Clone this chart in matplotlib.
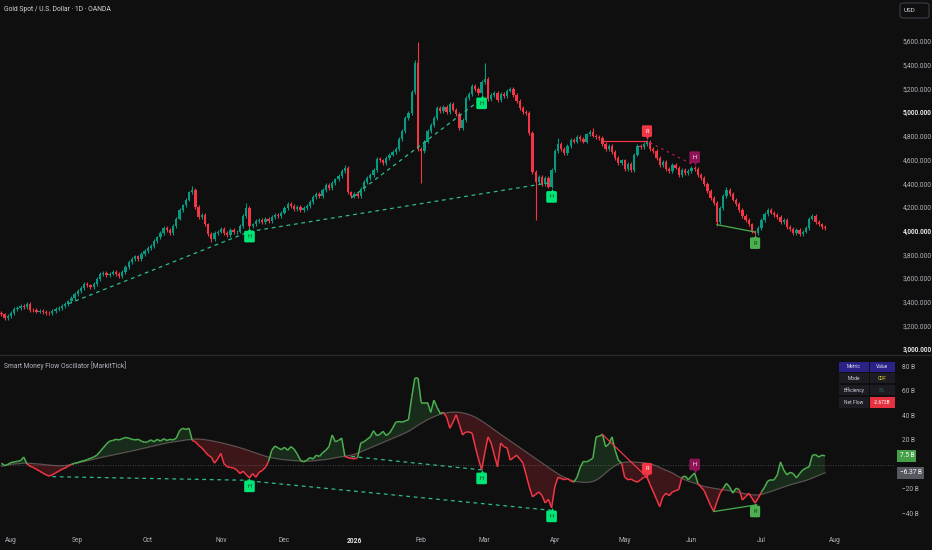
import numpy as np
import matplotlib
matplotlib.use("Agg")
import matplotlib.pyplot as plt
from matplotlib.collections import LineCollection
from matplotlib.transforms import offset_copy, blended_transform_factory
from matplotlib.patches import Rectangle, FancyBboxPatch

plt.rcParams['font.family'] = ['Roboto', 'DejaVu Sans']

# ---------------- data ----------------
TITLE = "Gold Spot / U.S. Dollar · 1D · OANDA"
OSC_TITLE = "Smart Money Flow Oscillator [MarkitTick]"
FIRST_BAR = -3
FIRST_OPEN = 3310

CLOSE = [
    3300, 3270, 3290,
    # Aug
    3310, 3345, 3355, 3370, 3365, 3385, 3340, 3335, 3325, 3330, 3320, 3315, 3310, 3330, 3345, 3355, 3370, 3390, 3410, 3440, 3470,
    # Sep
    3500, 3525, 3555, 3545, 3535, 3555, 3600, 3640, 3650, 3630, 3645, 3660, 3640, 3625, 3660, 3700, 3740, 3765, 3790, 3770, 3810, 3835,
    # Oct
    3860, 3880, 3920, 3950, 3990, 4030, 4010, 3990, 4050, 4110, 4180, 4220, 4270, 4330, 4350, 4210, 4120, 4140, 4060, 3980, 3940, 3990, 4000,
    # Nov
    4020, 3990, 3970, 4010, 3995, 4000, 4050, 4130, 4200, 4045, 4060, 4090, 4100, 4080, 4110, 4090, 4120, 4140, 4130, 4160,
    # Dec
    4200, 4230, 4215, 4190, 4205, 4185, 4200, 4215, 4250, 4290, 4320, 4300, 4350, 4390, 4370, 4410, 4440, 4470, 4510, 4535, 4330, 4300,
    # Jan
    4320, 4300, 4360, 4420, 4450, 4480, 4520, 4610, 4600, 4580, 4620, 4650, 4670, 4700, 4780, 4850, 4960, 5000, 5180, 5420, 4700,
    # Feb
    4680, 4760, 4850, 4900, 4960, 5040, 5020, 5050, 5010, 5080, 5030, 4990, 4870, 4940, 5130, 5160, 5230, 5200, 5170, 5260,
    # Mar
    5290, 5120, 5150, 5170, 5110, 5160, 5140, 5190, 5200, 5150, 5100, 5040, 5010, 5000, 4830, 4500, 4420, 4460, 4400, 4450, 4380, 4520,
    # Apr
    4680, 4740, 4700, 4660, 4720, 4770, 4760, 4800, 4780, 4760, 4820, 4840, 4810, 4800, 4790, 4740, 4700, 4720, 4670, 4620, 4580, 4600,
    # May
    4530, 4570, 4520, 4650, 4720, 4710, 4740, 4760, 4700, 4680, 4620, 4560, 4590, 4530, 4510, 4560, 4540, 4480, 4520, 4490, 4510,
    # Jun
    4540, 4525, 4480, 4450, 4400, 4340, 4280, 4240, 4080, 4200, 4300, 4350, 4320, 4270, 4230, 4180, 4130, 4100, 4060, 4000, 3990, 4030,
    # Jul
    4100, 4150, 4180, 4160, 4140, 4120, 4080, 4100, 4040, 4020, 3990, 4010, 3980, 4000, 4030, 4110, 4130, 4080, 4060, 4040, 4030,
]
WICK = 16
HIGH_OVR = {57: 4385, 74: 4240, 105: 4560, 127: 5450, 128: 5600, 149: 5420, 183: 4870, 172: 4790, 225: 4380}
LOW_OVR = {129: 4410, 165: 4100, 63: 3910, 222: 4050}

OSC = [
    1.5, -0.5, 0.5,
    2, 2.5, 3, 3.5, 6.5, 1, -1, -2, -3.5, -5, -6.5, -8, -9, -8, -6.5, -5, -3.5, -2.5, -1, 0.5, 1.5,
    2, 3, 3.5, 4.5, 5.5, 6.5, 8, 11, 14, 17, 19.5, 20, 21, 20.5, 21.5, 22.5, 22, 21, 20.5, 21, 19.5, 18.5,
    19, 20.5, 19, 21, 19.5, 21.5, 20, 21, 20.5, 22, 28, 30, 29, 30, 20, 19, 16, 14, 11, 8, 6.5, 1.5, 5,
    9.5, 1, -1.5, -2, -2.5, -4, -7, -5, -8, -10.5, -7, -10, -6, -4.5, -2, 3, 12, 15.5, 14, 12.5,
    14.5, 12, 15, 13, 9, 4, 2.5, 4, 6, 5, 8, 7, 10, 12, 15, 24.5, 19, 20, 22, 7, 6, 5.5,
    5, 6, 18, 19, 21, 23, 28, 24, 25, 27.5, 24, 26, 30, 35, 35.5, 35, 36, 37, 55, 71, 71,
    51, 51, 51, 43, 53, 47, 42, 43, 39, 30, 35, 41, 33, 24.5, 27, 27, 26, 15, 5, -4,
    10, 23, 18, 8, -1.5, 18, 15, 14, 4, 6, 8, 5, 1.5, -8, -18, -26, -24, -22, -25, -31, -28, -35,
    -18, -10, -11, -12, -11, -13, -14, -10, -2, 3, 2.5, 4, 5.5, 23, 23.5, 25, 15, 17, 23, 12, 4, 1.5,
    -10, -12, -11.5, -13, -14, -12, -10, -10, -16, -22, -28, -34, -26, -23, -25, -22, -21, -20, -10, -9, -12,
    -9, -6.5, -15, -18, -21, -27, -33, -38, -30, -23, -19, -15, -18, -23, -19, -20, -28.5, -26, -23, -27, -31, -27,
    -22, -18, -13, -12, -12, -8, 2.5, -4, -8, -6, -7, -10.5, -7, -4, -2.5, -1.5, 8, 8.5, 6.5, 8, 7.5,
]
SIGNAL = [
    -1, -0.5, 0, 0.5, 0.8, 1, 1.2, 1.5, 1.5, 1.4, 1.2, 1, 0.8, 0.5, 0.2, 0, -0.3, -0.5, -0.6, -0.6, -0.5,
    0, 0.5, 1.1, 1.7, 2.3, 2.9, 3.5, 4.1, 4.7, 5.3, 5.9, 6.5, 7, 7.6, 8.1, 8.7, 9.2, 9.8, 10.3, 10.9,
    11.4, 12, 12.6, 13.2, 13.8, 14.4, 15, 15.6, 16.2, 16.8, 17.4, 17.9, 18.4, 18.8, 19.2, 19.6, 20, 20.4, 20.7, 21,
    21.2, 21.2, 21, 20.7, 20.3, 19.8, 19.3, 18.8, 18.2, 17.6, 17, 16.3, 15.6, 14.9, 14.1, 13.3, 12.5, 11.6, 10.7, 9.8,
    8.9, 8, 7.2, 6.5, 5.9, 5.4, 5, 4.6, 4.3, 4, 3.8, 3.6, 3.4, 3.2, 3.1, 3.1, 3.2, 3.4, 3.6, 3.9,
    4.2, 4.5, 4.9, 5.4, 5.9, 6.4, 6.8, 7.2, 7.6, 8.1,
    8.8, 9.7, 10.7, 11.8, 12.9, 14, 15.1, 16.2, 17.3, 18.4, 19.5, 20.6, 21.7, 22.8, 23.9, 25, 26.2, 27.5, 29, 30.8,
    32.5, 34, 35.5, 37, 38.2, 39.4, 40.5, 41.4, 42.1, 42.6, 43, 43.2, 43.2, 43, 42.6, 42, 41.2, 40.2, 39, 37.6,
    36, 34.3, 32.5, 30.6, 28.7, 26.8, 25, 23.2, 21.4, 19.6, 17.8, 16, 14.2, 12.4, 10.6, 8.8, 7, 5.2, 3.4, 1.6,
    -0.2, -2, -3.8,
    -5.5, -7.2, -8.7, -10, -11.2, -12.2, -13, -13.6, -14, -14.2, -14.2, -14, -13.4, -12.4, -10.8, -8.8, -6.5, -4.3, -2.3, -0.6,
    0.8, 1.8, 2.3, 2.5, 2.5, 2.4, 2.2, 2, 1.8, 1.5, 1, 0.2, -0.8, -2, -3.2, -4.3, -5.3, -6.5, -8, -9.5, -11, -12.2,
    -13.2, -14, -14.8, -15.8, -16.8, -17.5, -18, -18.5, -19, -19.4, -19.8, -20.2, -20.6, -21, -21.5, -22, -22.5, -23, -23.5, -24,
    -24.3, -24.5, -24.4, -24, -23.3, -22.5, -21.6, -20.7, -19.8, -18.9, -18, -17.1, -16.3, -15.5, -14.8, -14.1, -13.4, -12.6,
    -11.7, -10.7, -9.6, -8.5, -7.4, -6.37,
]

PRICE_TICKS = [5600, 5400, 5200, 5000, 4800, 4600, 4400, 4200, 4000, 3800, 3600, 3400, 3200, 3000]
PRICE_BOLD = [5000, 4000, 3000]
OSC_TICKS = [80, 60, 40, 20, -20, -40]
MONTH_POS = [0, 21, 43, 66, 86, 108, 129, 149, 171, 193, 214, 236, 259]
MONTH_LBL = ["Aug", "Sep", "Oct", "Nov", "Dec", "2026", "Feb", "Mar", "Apr", "May", "Jun", "Jul", "Aug"]

# markers: bar, text, kind
PRICE_MARKS = [(75, "H", "bull"), (148, "H", "bull"), (170, "H", "bull"),
               (200, "R", "bear"), (215, "H", "hbear"), (234, "R", "rbull")]
OSC_MARKS = [(75, "H", "bull"), (148, "H", "bull"), (170, "H", "bull"),
             (200, "R", "bear"), (215, "H", "hbear"), (234, "R", "rbull")]

PRICE_DASH = [((18, 3390), (75, 4000)), ((75, 4000), (169, 4410)), ((107, 4285), (148, 5120))]
PRICE_RED = ((185.5, 4768), (200, 4768))
PRICE_PURPLE = ((201, 4750), (214, 4570))
PRICE_GREEN = ((222, 4058), (234, 3996))
OSC_DASH = [((13, -9.5), (75, -12.5)), ((75, -13), (170, -37)), ((107, 7), (148, -4))]
OSC_RED = ((186, 25), (200, -10))
OSC_GREEN = ((221, -38), (234.5, -32.5))

OSC_LAST = "7.5 B"
SIG_LAST = "−6.37 B"
TABLE = [("Metric", "Value"), ("Mode", "CDF"), ("Efficiency", "5%"), ("Net Flow", "-2.672B")]

# ---------------- styles ----------------
BG = '#0f0f0f'
UP = '#089981'
DN = '#f23645'
TXT = '#b2b5be'
KIND_STYLE = {
    "bull": ('#00e676', '#0b3d20', False),
    "bear": ('#f23645', '#ffffff', True),
    "hbear": ('#8e1457', '#ffffff', True),
    "rbull": ('#4caf50', '#0f3d14', False),
}

W, H = 932, 550
fig = plt.figure(figsize=(W / 100, H / 100), dpi=100, facecolor=BG)


def fx(px):
    return px / W


def fy(py):
    return 1 - py / H


axp = fig.add_axes([0, fy(353), fx(895), 353 / H])
axo = fig.add_axes([0, fy(530), fx(895), 174 / H])
for ax in (axp, axo):
    ax.set_facecolor(BG)
    for s in ax.spines.values():
        s.set_visible(False)
    ax.set_xticks([])
    ax.set_yticks([])
    ax.set_xlim(-3.46, 278)
axp.set_ylim(2974.7, 5954.5)
axo.set_ylim(-53.06, 89.0)

# ---------------- candles ----------------
c = np.array(CLOSE, dtype=float)
idx = np.arange(FIRST_BAR, FIRST_BAR + len(c))
o = np.r_[FIRST_OPEN, c[:-1]]
hi = np.maximum(o, c) + WICK
lo = np.minimum(o, c) - WICK
for k, v in HIGH_OVR.items():
    hi[k - FIRST_BAR] = v
for k, v in LOW_OVR.items():
    lo[k - FIRST_BAR] = v
cols = np.where(c >= o, UP, DN)
axp.vlines(idx, lo, hi, colors=cols, lw=0.8, zorder=2)
body = np.maximum(np.abs(c - o), 5)
axp.bar(idx, body, bottom=np.minimum(o, c), width=0.72, color=cols, linewidth=0, zorder=3)


def bar_pos(b):
    return b - FIRST_BAR


# price annotation lines
for (a, b) in PRICE_DASH:
    axp.plot([a[0], b[0]], [a[1], b[1]], color='#2bbd8e', lw=0.9, ls=(0, (3, 3)), zorder=4)
axp.plot([PRICE_RED[0][0], PRICE_RED[1][0]], [PRICE_RED[0][1], PRICE_RED[1][1]], color='#f23645', lw=0.9, zorder=4)
axp.plot([PRICE_PURPLE[0][0], PRICE_PURPLE[1][0]], [PRICE_PURPLE[0][1], PRICE_PURPLE[1][1]],
         color='#b0204f', lw=0.9, ls=(0, (2, 3)), zorder=4)
axp.plot([PRICE_GREEN[0][0], PRICE_GREEN[1][0]], [PRICE_GREEN[0][1], PRICE_GREEN[1][1]], color='#4caf50', lw=0.9, zorder=4)


def tag(ax, xi, yv, text, kind):
    fc, tc, above = KIND_STYLE[kind]
    sign = 1 if above else -1
    tr_tip = offset_copy(ax.transData, fig=fig, x=0, y=sign * 2.2, units='dots')
    ax.plot([xi], [yv], marker='v' if above else '^', ms=3.4, color=fc, mec='none',
            transform=tr_tip, zorder=8)
    tr_box = offset_copy(ax.transData, fig=fig, x=0, y=sign * 8.5, units='dots')
    ax.text(xi, yv, text, transform=tr_box, ha='center', va='center', fontsize=4.0, color=tc,
            bbox=dict(boxstyle='round,pad=0.6,rounding_size=0.25', fc=fc, ec='none'), zorder=9)


for b, t, kind in PRICE_MARKS:
    p = bar_pos(b)
    above = KIND_STYLE[kind][2]
    tag(axp, b, hi[p] if above else lo[p], t, kind)

# ---------------- oscillator ----------------
osc = np.array(OSC, dtype=float)
sig = np.array(SIGNAL, dtype=float)
axo.axhline(0, color='#787b86', lw=0.6, ls=(0, (1, 2)), alpha=0.7, zorder=1)
axo.fill_between(idx, osc, sig, where=osc >= sig, interpolate=True, color='#4caf50', alpha=0.18, lw=0, zorder=2)
axo.fill_between(idx, osc, sig, where=osc < sig, interpolate=True, color='#f23645', alpha=0.2, lw=0, zorder=2)
axo.plot(idx, sig, color='#8c7f7f', lw=0.9, alpha=0.55, zorder=3)
pts = np.column_stack([idx, osc])
segs = np.stack([pts[:-1], pts[1:]], axis=1)
up_seg = (osc[:-1] + osc[1:]) >= (sig[:-1] + sig[1:])
lc = LineCollection(segs, colors=np.where(up_seg, '#4caf50', '#f23645'), linewidths=1.1, zorder=4)
axo.add_collection(lc)

for (a, b) in OSC_DASH:
    axo.plot([a[0], b[0]], [a[1], b[1]], color='#2bbd8e', lw=0.9, ls=(0, (3, 3)), zorder=5)
axo.plot([OSC_RED[0][0], OSC_RED[1][0]], [OSC_RED[0][1], OSC_RED[1][1]], color='#f23645', lw=0.9, zorder=5)
axo.plot([OSC_GREEN[0][0], OSC_GREEN[1][0]], [OSC_GREEN[0][1], OSC_GREEN[1][1]], color='#4caf50', lw=0.9, zorder=5)

for b, t, kind in OSC_MARKS:
    tag(axo, b, osc[bar_pos(b)], t, kind)

# ---------------- axes labels ----------------
trp = blended_transform_factory(fig.transFigure, axp.transData)
for p in PRICE_TICKS:
    bold = p in PRICE_BOLD
    fig.text(fx(903), p, f"{p:,}.000", transform=trp, ha='left', va='center', fontsize=4.7,
             color='#e6e6e6' if bold else TXT, fontweight='bold' if bold else 'normal')

tro = blended_transform_factory(fig.transFigure, axo.transData)
for v in OSC_TICKS:
    lbl = f"{v} B" if v > 0 else f"−{abs(v)} B"
    fig.text(fx(902), v, lbl, transform=tro, ha='left', va='center', fontsize=4.7, color=TXT)
fig.text(fx(899.5), osc[-1], OSC_LAST, transform=tro, ha='left', va='center', fontsize=4.7, color='#ffffff',
         bbox=dict(boxstyle='square,pad=0.35', fc='#43a047', ec='none'))
fig.text(fx(899.5), sig[-1], SIG_LAST, transform=tro, ha='left', va='center', fontsize=4.7, color='#ffffff',
         bbox=dict(boxstyle='square,pad=0.35', fc='#55585f', ec='none'))

trm = blended_transform_factory(axo.transData, fig.transFigure)
for pos, lbl in zip(MONTH_POS, MONTH_LBL):
    bold = lbl.isdigit()
    fig.text(pos, fy(541), lbl, transform=trm, ha='center', va='center', fontsize=4.8,
             color='#e6e6e6' if bold else TXT, fontweight='bold' if bold else 'normal')

# titles
fig.text(fx(4), fy(9.5), TITLE, ha='left', va='center', fontsize=4.9, color='#d1d4dc')
fig.text(fx(4), fy(366), OSC_TITLE, ha='left', va='center', fontsize=4.9, color='#b2b5be')

# separator lines
fig.add_artist(plt.Line2D([0, 1], [fy(354.5), fy(354.5)], color='#2a2a2a', lw=1.0, transform=fig.transFigure))

# USD box
fig.add_artist(FancyBboxPatch((fx(900), fy(18)), fx(29), 15 / H, boxstyle='round,pad=0,rounding_size=0.004',
                              fc=BG, ec='#3a3d45', lw=0.8, transform=fig.transFigure))
fig.text(fx(904), fy(10.5), "USD", ha='left', va='center', fontsize=4.5, color='#d1d4dc')

# ---------------- table ----------------
col_x = [(839, 868.5), (869.5, 895)]
row_y = [(362, 371.5), (373, 383), (385, 395), (397, 408)]
for r, (row, (y0, y1)) in enumerate(zip(TABLE, row_y)):
    for cidx, (txt, (x0, x1)) in enumerate(zip(row, col_x)):
        if r == 0:
            fc, tc = '#2b2288', '#e0e0f0'
        elif r == 3 and cidx == 1:
            fc, tc = '#e5313f', '#ffffff'
        else:
            fc, tc = '#1c1c22', '#d1d4dc'
        if r == 1 and cidx == 1:
            tc = '#d6d13a'
        if r == 2 and cidx == 1:
            tc = '#2f6f60'
        fig.add_artist(Rectangle((fx(x0), fy(y1)), fx(x1 - x0), (y1 - y0) / H, fc=fc, ec='none',
                                 transform=fig.transFigure))
        fig.text(fx((x0 + x1) / 2), fy((y0 + y1) / 2), txt, ha='center', va='center', fontsize=3.5, color=tc)

fig.savefig("out.png", dpi=100, facecolor=BG)
